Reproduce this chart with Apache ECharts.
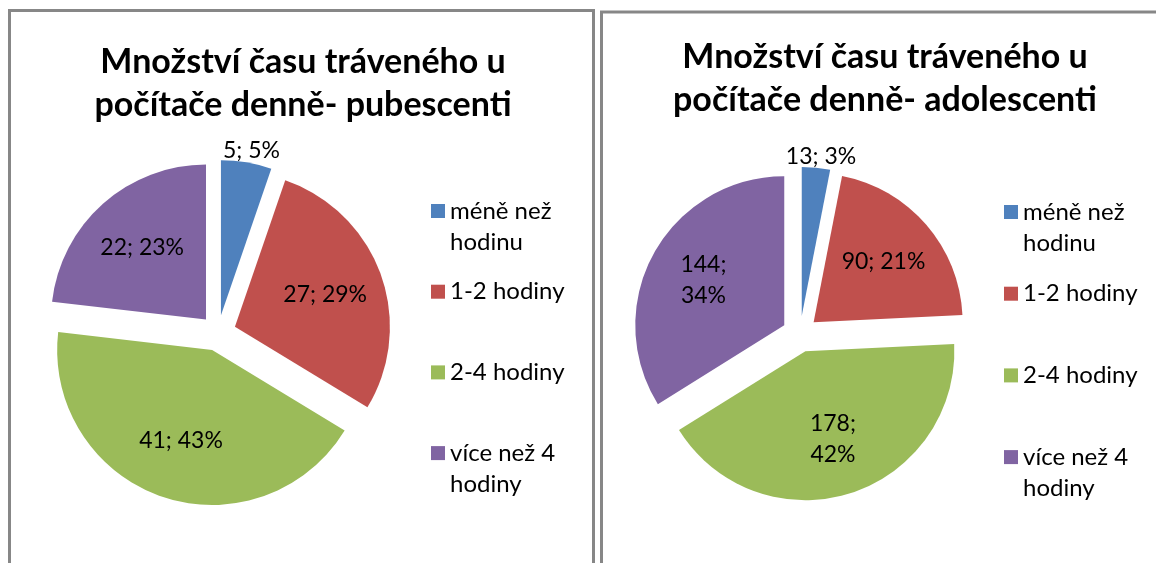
<!DOCTYPE html>
<html>
<head>
<meta charset="utf-8">
<script src="https://cdn.jsdelivr.net/npm/echarts@6/dist/echarts.min.js"></script>
<style>
html, body { margin: 0; padding: 0; background: #fff; }
#main { width: 1156px; height: 563px; }
</style>
</head>
<body>
<div id="main"></div>
<script>
// data
const categories = ['méně než hodinu', '1-2 hodiny', '2-4 hodiny', 'více než 4 hodiny'];
const pubescentiValues = [5, 27, 41, 22];
const pubescentiPct = [5, 29, 43, 23];
const adolescentiValues = [13, 90, 178, 144];
const adolescentiPct = [3, 21, 42, 34];
const pubescentiTitle = 'Množství času tráveného u\npočítače denně- pubescenti';
const adolescentiTitle = 'Množství času tráveného u\npočítače denně- adolescenti';

const colors = ['#4f81bd', '#c0504d', '#9bbb59', '#8064a2'];
const FONT = 'Lato';
const LH = 31;                       // legend line height
const legendWrapped = [true, false, false, true];

// one panel per pie
const panels = [
    {
        title: pubescentiTitle, values: pubescentiValues, pct: pubescentiPct,
        cx: 218, cy: 333, r: 155, titleX: 303, titleY: 41,
        legendX: 431, legendY0: 211, legendStep: 80.7,
        labelWrap: [false, false, false, false]
    },
    {
        title: adolescentiTitle, values: adolescentiValues, pct: adolescentiPct,
        cx: 800, cy: 334, r: 149, titleX: 885, titleY: 36,
        legendX: 1004, legendY0: 212, legendStep: 81.7,
        labelWrap: [false, false, true, true]
    }
];

// Excel puts the small slice label centred just above the slice
function smallLabel() {
    return { align: 'center', verticalAlign: 'bottom' };
}

// break before the last word; leading empty line keeps the marker on the first line
function legendText(s) {
    return '\n' + s.replace(/ (?=[^ ]*$)/, '\n');
}

const titles = [];
const legends = [];
const series = [];

panels.forEach(function (pn) {
    titles.push({
        text: pn.title,
        left: pn.titleX,
        top: pn.titleY,
        textAlign: 'center',
        padding: 0,
        textStyle: { fontFamily: FONT, fontWeight: 'bold', fontSize: 34, lineHeight: 43, color: '#000' }
    });

    categories.forEach(function (name, i) {
        const c = pn.legendY0 + i * pn.legendStep;
        const half = legendWrapped[i] ? LH * 1.5 : LH / 2;
        legends.push({
            data: [name],
            orient: 'vertical',
            left: pn.legendX,
            top: c - half,
            padding: 0,
            icon: 'rect',
            itemWidth: 14,
            itemHeight: 14,
            selectedMode: false,
            formatter: legendWrapped[i] ? legendText : '{name}',
            textStyle: { fontFamily: FONT, fontSize: 24, lineHeight: LH, color: '#000' }
        });
    });

    // visible exploded pie, only the small slice carries its label (outside)
    series.push({
        type: 'pie',
        center: [pn.cx, pn.cy],
        radius: [0, pn.r],
        startAngle: 90,
        clockwise: true,
        selectedMode: 'multiple',
        selectedOffset: 18,
        avoidLabelOverlap: false,
        animation: false,
        emphasis: { disabled: true },
        label: { show: false },
        labelLayout: function (p) { return p.dataIndex === 0 ? smallLabel() : {}; },
        data: pn.values.map(function (v, i) {
            const item = {
                name: categories[i],
                value: v,
                selected: true,
                itemStyle: { color: colors[i] }
            };
            if (i === 0) {
                item.label = {
                    show: true, position: 'outside',
                    fontFamily: FONT, fontSize: 23, color: '#000',
                    formatter: v + '; ' + pn.pct[i] + '%'
                };
                item.labelLine = { show: false, length: 0, length2: 0 };
            }
            return item;
        })
    });

    // transparent ring carrying the inner labels at Excel's radius
    series.push({
        type: 'pie',
        center: [pn.cx, pn.cy],
        radius: [pn.r * 0.46, pn.r * 0.74],
        startAngle: 90,
        clockwise: true,
        selectedMode: 'multiple',
        selectedOffset: 18,
        avoidLabelOverlap: false,
        animation: false,
        silent: true,
        legendHoverLink: false,
        emphasis: { disabled: true },
        itemStyle: { color: 'rgba(0,0,0,0)', borderWidth: 0 },
        label: {
            show: true,
            position: 'inside',
            fontFamily: FONT,
            fontSize: 23,
            lineHeight: 31,
            color: '#000',
            formatter: function (p) {
                const sep = pn.labelWrap[p.dataIndex] ? ';\n' : '; ';
                return p.value + sep + pn.pct[p.dataIndex] + '%';
            }
        },
        data: pn.values.map(function (v, i) {
            return {
                name: categories[i],
                value: v,
                selected: true,
                label: { show: i > 0 }
            };
        })
    });
});

const chart = echarts.init(document.getElementById('main'));
chart.setOption({
    backgroundColor: '#fff',
    animation: false,
    color: colors,
    title: titles,
    legend: legends,
    graphic: [
        {
            type: 'rect', z: -1,
            shape: { x: 9.5, y: 10.5, width: 584, height: 620 },
            style: { fill: 'none', stroke: '#878787', lineWidth: 3 }
        },
        {
            type: 'rect', z: -1,
            shape: { x: 601.5, y: 12, width: 620, height: 620 },
            style: { fill: 'none', stroke: '#878787', lineWidth: 3 }
        }
    ],
    series: series
});
</script>
</body>
</html>
